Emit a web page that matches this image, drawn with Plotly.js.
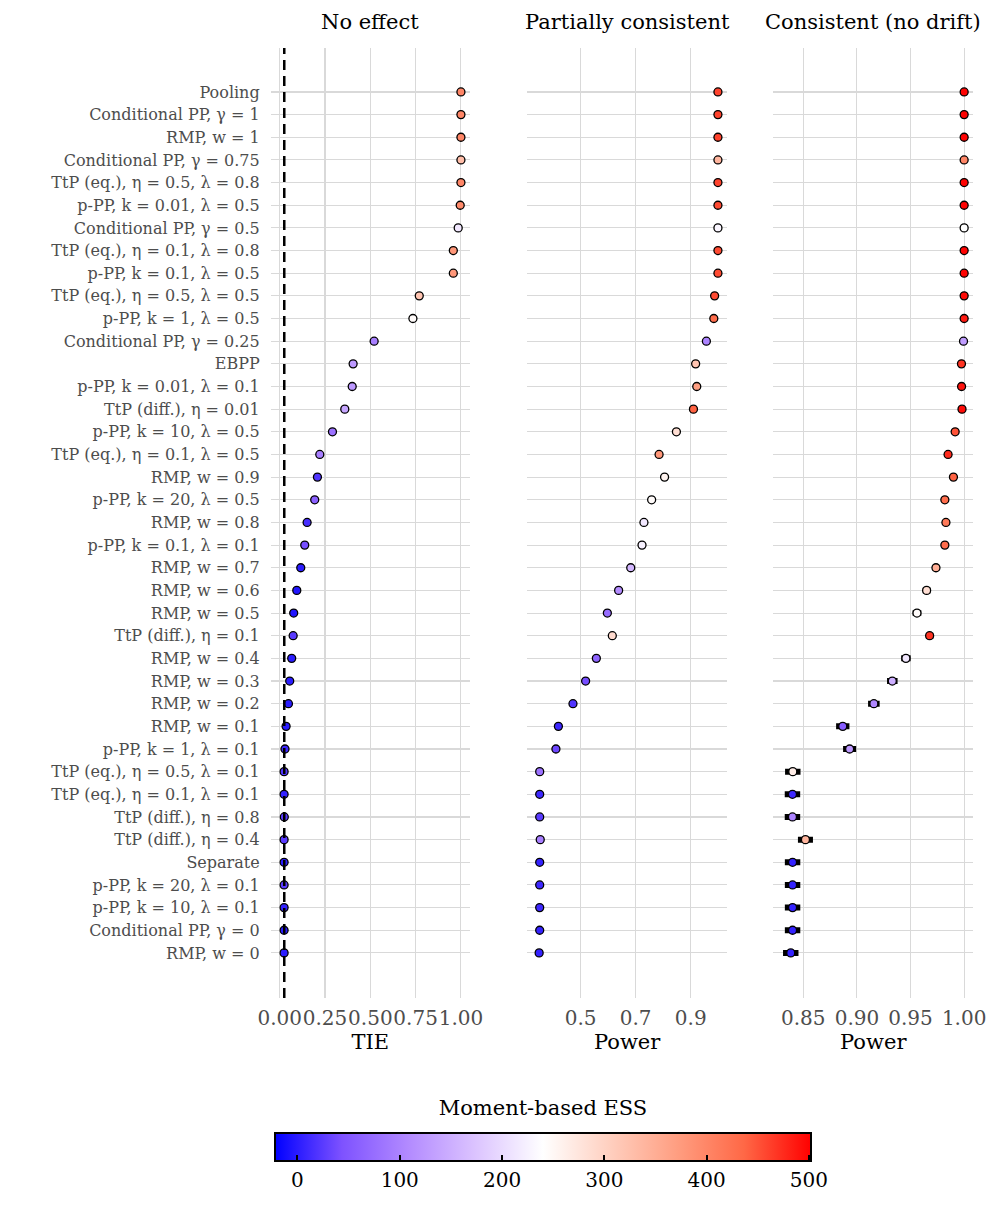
<!DOCTYPE html>
<html>
<head>
<meta charset="utf-8">
<script src="https://cdn.plot.ly/plotly-3.0.1.min.js"></script>
<style>
  body { margin: 0; background: #ffffff; }
  #plotESS { width: 997px; height: 1231px; }
</style>
</head>
<body>
<div id="plotESS"></div>
<script>
/* =======================================================
    Operating characteristics of borrowing methods
    -------------------------------------------------------
    TIE (no effect) and power (partially consistent /
    consistent) per method, coloured by moment-based ESS.
======================================================= */

// Methods, top to bottom
const methods = [
    'Pooling',
    'Conditional PP, γ = 1',
    'RMP, w = 1',
    'Conditional PP, γ = 0.75',
    'TtP (eq.), η = 0.5, λ = 0.8',
    'p-PP, k = 0.01, λ = 0.5',
    'Conditional PP, γ = 0.5',
    'TtP (eq.), η = 0.1, λ = 0.8',
    'p-PP, k = 0.1, λ = 0.5',
    'TtP (eq.), η = 0.5, λ = 0.5',
    'p-PP, k = 1, λ = 0.5',
    'Conditional PP, γ = 0.25',
    'EBPP',
    'p-PP, k = 0.01, λ = 0.1',
    'TtP (diff.), η = 0.01',
    'p-PP, k = 10, λ = 0.5',
    'TtP (eq.), η = 0.1, λ = 0.5',
    'RMP, w = 0.9',
    'p-PP, k = 20, λ = 0.5',
    'RMP, w = 0.8',
    'p-PP, k = 0.1, λ = 0.1',
    'RMP, w = 0.7',
    'RMP, w = 0.6',
    'RMP, w = 0.5',
    'TtP (diff.), η = 0.1',
    'RMP, w = 0.4',
    'RMP, w = 0.3',
    'RMP, w = 0.2',
    'RMP, w = 0.1',
    'p-PP, k = 1, λ = 0.1',
    'TtP (eq.), η = 0.5, λ = 0.1',
    'TtP (eq.), η = 0.1, λ = 0.1',
    'TtP (diff.), η = 0.8',
    'TtP (diff.), η = 0.4',
    'Separate',
    'p-PP, k = 20, λ = 0.1',
    'p-PP, k = 10, λ = 0.1',
    'Conditional PP, γ = 0',
    'RMP, w = 0'
];

const panelTitles = ['No effect', 'Partially consistent', 'Consistent (no drift)'];
const axisTitles = ['TIE', 'Power', 'Power'];

// Scenario: no effect
const tie = [1.000, 1.000, 1.000, 1.000, 1.000, 0.996, 0.985, 0.958, 0.958, 0.770,
             0.735, 0.521, 0.405, 0.400, 0.359, 0.291, 0.221, 0.208, 0.193, 0.151,
             0.138, 0.116, 0.094, 0.077, 0.074, 0.066, 0.055, 0.048, 0.035, 0.029,
             0.024, 0.024, 0.025, 0.024, 0.024, 0.024, 0.024, 0.024, 0.024];
const essNoEffect = [400, 400, 400, 330, 400, 395, 215, 380, 380, 320,
                     245, 95, 125, 125, 140, 80, 95, 20, 60, 15,
                     40, 0, -5, -5, 25, 0, 0, 0, 0, 10,
                     20, 5, 25, 25, 0, 25, 5, 0, 0];

// Scenario: partially consistent
const powerPartial = [0.999, 0.999, 0.999, 0.999, 0.999, 0.999, 0.999, 0.999, 0.999, 0.987,
                      0.984, 0.957, 0.918, 0.922, 0.910, 0.848, 0.785, 0.805, 0.758, 0.730,
                      0.723, 0.682, 0.638, 0.597, 0.615, 0.557, 0.518, 0.472, 0.419, 0.410,
                      0.351, 0.351, 0.351, 0.353, 0.351, 0.351, 0.351, 0.351, 0.349];
const essPartial = [460, 460, 460, 340, 460, 455, 230, 455, 455, 455,
                    430, 100, 320, 370, 440, 285, 380, 255, 245, 215,
                    225, 160, 110, 75, 290, 65, 40, 20, 10, 35,
                    80, 10, 25, 95, 5, 10, 10, 5, 5];

// Scenario: consistent (no drift)
const powerConsistent = [1.000, 1.000, 1.000, 1.000, 1.000, 1.000, 1.000, 1.000, 1.000, 1.000,
                         1.000, 0.9994, 0.9975, 0.9976, 0.998, 0.9916, 0.985, 0.990, 0.982, 0.983,
                         0.982, 0.9737, 0.965, 0.956, 0.9678, 0.9457, 0.933, 0.9158, 0.8868, 0.8932,
                         0.8402, 0.8399, 0.8399, 0.852, 0.840, 0.840, 0.840, 0.840, 0.8383];
const errConsistent = [0.0002, 0.0002, 0.0002, 0.0002, 0.0002, 0.0002, 0.0002, 0.0002, 0.0002, 0.0002,
                       0.0002, 0.0005, 0.001, 0.001, 0.0009, 0.0018, 0.0024, 0.002, 0.0026, 0.0025,
                       0.0026, 0.0031, 0.0036, 0.004, 0.0035, 0.0044, 0.0049, 0.0054, 0.0062, 0.0061,
                       0.0072, 0.0072, 0.0072, 0.007, 0.0072, 0.0072, 0.0072, 0.0072, 0.0072];
const essConsistent = [500, 500, 500, 400, 500, 500, 240, 500, 500, 495,
                       485, 130, 470, 490, 495, 450, 475, 440, 430, 415,
                       430, 350, 285, 245, 470, 215, 150, 105, 55, 125,
                       265, 10, 100, 340, 5, 5, 5, 5, 5];

// Nominal TIE level
const tieLevel = 0.025;

// ESS colour range and ticks
const essMin = -22;
const essMax = 502;
const essTicks = [0, 100, 200, 300, 400, 500];

// blue - white - red, interpolated in Lab space like scale_*_gradient2
const essScale = [
    [0, '#0000FF'], [0.125, '#7E52FF'], [0.25, '#B38BFF'], [0.375, '#DCC4FF'],
    [0.5, '#FFFFFF'], [0.625, '#FFCFBF'], [0.75, '#FF9E81'], [0.875, '#FF6846'], [1, '#FF0000']
];

const font = 'DejaVu Serif';
const gridColor = '#D9D9D9';
const tickGrey = '#4D4D4D';

function markerFor(ess, withBar) {
    const m = {
        size: 8,
        color: ess,
        colorscale: essScale,
        cmin: essMin,
        cmax: essMax,
        line: { color: 'black', width: 1.3 },
        showscale: !!withBar
    };
    if (withBar) {
        m.colorbar = {
            orientation: 'h',
            x: 0.5446, xanchor: 'center',
            y: -0.1166, yanchor: 'top',
            len: 536, lenmode: 'pixels',
            thickness: 28, thicknessmode: 'pixels',
            xpad: 0, ypad: 0,
            outlinewidth: 2, outlinecolor: 'black',
            ticks: 'inside', ticklen: 7, tickwidth: 2, tickcolor: 'black',
            tickvals: essTicks,
            tickfont: { family: font, size: 20, color: 'black' },
            title: { text: 'Moment-based ESS', side: 'top', font: { family: font, size: 21, color: 'black' } }
        };
    }
    return m;
}

const traces = [
    { x: tie, y: methods, xaxis: 'x', yaxis: 'y', mode: 'markers', type: 'scatter',
      marker: markerFor(essNoEffect, true), hoverinfo: 'x+y' },
    { x: powerPartial, y: methods, xaxis: 'x2', yaxis: 'y2', mode: 'markers', type: 'scatter',
      marker: markerFor(essPartial, false), hoverinfo: 'x+y' },
    { x: powerConsistent, y: methods, xaxis: 'x3', yaxis: 'y3', mode: 'markers', type: 'scatter',
      error_x: { type: 'data', array: errConsistent, color: 'black', thickness: 6, width: 0 },
      marker: markerFor(essConsistent, false), hoverinfo: 'x+y' }
];

const nRows = methods.length;
const yRange = [nRows - 1 + 1.99, -1.94];

function xAxis(domain, range, tickvals, ticktext, anchor, title) {
    return {
        domain: domain, range: range, anchor: anchor,
        tickvals: tickvals, ticktext: ticktext, tickangle: 0,
        showgrid: true, gridcolor: gridColor, gridwidth: 1.1,
        zeroline: false, showline: false, ticks: '',
        ticklabelstandoff: 6,
        tickfont: { family: font, size: 20, color: tickGrey },
        title: { text: title, font: { family: font, size: 21, color: 'black' }, standoff: 4 }
    };
}

function yAxis(anchor, showLabels) {
    return {
        domain: [0, 1], anchor: anchor,
        type: 'category', categoryorder: 'array', categoryarray: methods,
        range: yRange,
        showgrid: true, gridcolor: gridColor, gridwidth: 1.1,
        zeroline: false, showline: false, ticks: '',
        showticklabels: showLabels,
        ticklabelstandoff: 10,
        tickfont: { family: font, size: 16, color: tickGrey }
    };
}

const layout = {
    width: 997,
    height: 1231,
    margin: { l: 0, r: 0, t: 48, b: 233 },
    paper_bgcolor: 'white',
    plot_bgcolor: 'white',
    showlegend: false,
    font: { family: font, color: 'black' },
    xaxis: xAxis([0.2715, 0.4714], [-0.05, 1.05], [0, 0.25, 0.5, 0.75, 1],
                 ['0.00', '0.25', '0.50', '0.75', '1.00'], 'y', axisTitles[0]),
    xaxis2: xAxis([0.5289, 0.7292], [0.306, 1.032], [0.5, 0.7, 0.9],
                  ['0.5', '0.7', '0.9'], 'y2', axisTitles[1]),
    xaxis3: xAxis([0.7756, 0.9762], [0.822, 1.0085], [0.85, 0.9, 0.95, 1.0],
                  ['0.85', '0.90', '0.95', '1.00'], 'y3', axisTitles[2]),
    yaxis: yAxis('x', true),
    yaxis2: yAxis('x2', false),
    yaxis3: yAxis('x3', false),
    shapes: [{
        type: 'line', xref: 'x', yref: 'y domain',
        x0: tieLevel, x1: tieLevel, y0: 0, y1: 1,
        line: { color: 'black', width: 2.5, dash: '10px,6px' }
    }],
    annotations: panelTitles.map((t, i) => ({
        text: t, showarrow: false,
        xref: (i === 0 ? 'x' : 'x' + (i + 1)) + ' domain', x: 0.5, xanchor: 'center',
        yref: 'paper', y: 1.0274, yanchor: 'middle',
        font: { family: font, size: 21, color: 'black' }
    }))
};

Plotly.newPlot('plotESS', traces, layout, { displayModeBar: false, staticPlot: true });
</script>
</body>
</html>
